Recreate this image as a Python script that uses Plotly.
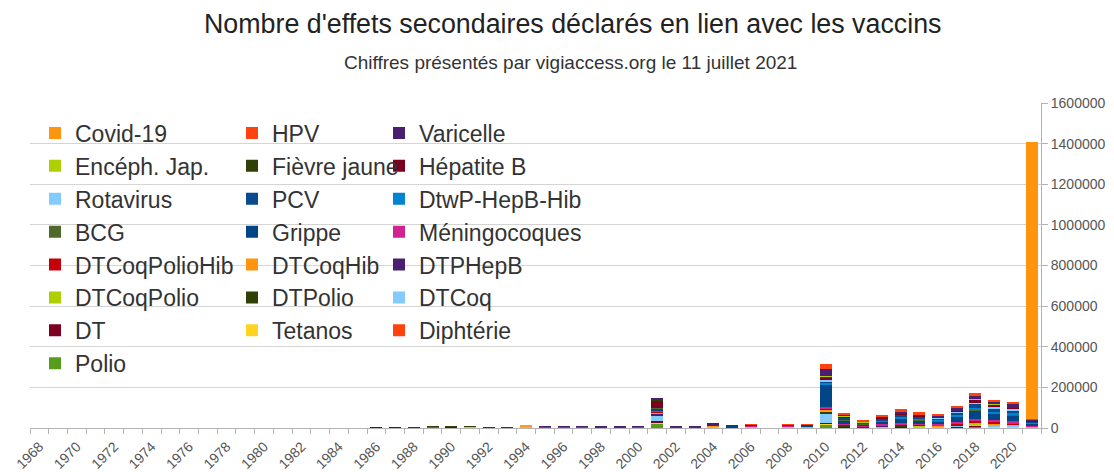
import plotly.graph_objects as go

years = list(range(1968, 2022))

# values per year 1968..2021 (54 values each)
polio = [0,0,0,0,0,0, 0,0,0,0,0,0, 0,0,0,0,0,0,
         300,400,500,800,700,1500,500,400,2500,600,600,600,700,700,600,
         20000, 500,700,1500,1000,1200,0,1200,1000,
         18000,2000,1000,1500,2000,1800,1500,2500,5000,3500,3000,1000]
diphterie = [0,0,0,0,0,0, 0,0,0,0,0,0, 0,0,0,0,0,0,
             50,50,100,100,100,200,100,50,200,100,100,100,100,100,100,
             1000, 100,150,300,200,250,0,250,200,
             1000,500,300,400,500,400,400,500,700,600,500,200]
tetanos = [0,0,0,0,0,0, 0,0,0,0,0,0, 0,0,0,0,0,0,
           200,300,300,500,400,700,300,300,800,400,400,400,500,500,400,
           2000, 300,400,900,600,700,0,700,600,
           3000,1500,800,1000,1300,1100,1000,1500,2000,1800,1600,500]
dt = [0,0,0,0,0,0, 0,0,0,0,0,0, 0,0,0,0,0,0,
      250,350,400,600,500,900,400,300,1000,500,500,500,600,600,500,
      10000, 400,600,1300,900,1000,0,1000,800,
      4000,1500,1000,1200,1500,1300,1200,1800,2500,2000,1800,600]
dtcoq = [0,0,0,0,0,0, 0,0,0,0,0,0, 0,0,0,0,0,0,
         500,800,1000,1500,1200,2000,1000,700,2500,1200,1100,1000,1200,1100,900,
         30000, 800,1200,2500,1800,2000,0,2000,1600,
         45000,3000,1500,2500,3500,3000,2500,4000,6000,5000,4500,1500]
dtpolio = [0,0,0,0,0,0, 0,0,0,0,0,0, 0,0,0,0,0,0,
           100,150,200,300,250,500,200,150,600,250,250,250,300,300,250,
           2000, 200,300,600,400,500,0,500,400,
           8000,1500,700,1000,1200,1000,900,1300,2000,1700,1500,500]
dtcoqpolio = [0,0,0,0,0,0, 0,0,0,0,0,0, 0,0,0,0,0,0,
              300,450,700,1000,900,2000,700,500,2200,900,850,800,900,900,700,
              3000, 500,700,1500,1000,1200,0,1200,1000,
              5000,2000,1000,1500,2000,1700,1500,2200,3000,2500,2200,800]
dtphepb = [0,0,0,0,0,0, 0,0,0,0,0,0, 0,0,0,0,0,0,
           0,0,0,0,0,0,0,0,0,100,100,150,200,200,200,
           5000, 200,300,700,500,600,0,700,600,
           3000,1000,500,800,1000,900,800,1200,2000,1700,1500,500]
dtcoqhib = [0,0,0,0,0,0, 0,0,0,0,0,0, 0,0,0,0,0,0,
            0,0,0,0,100,200,150,100,300,200,250,250,300,300,300,
            4000, 300,400,900,600,800,0,800,700,
            3000,1000,500,800,1000,900,800,1200,2000,1700,1500,500]
dtcoqpoliohib = [0,0,0,0,0,0, 0,0,0,0,0,0, 0,0,0,0,0,0,
                 0,0,0,0,0,0,0,50,150,150,200,250,300,350,300,
                 3000, 400,600,1300,900,1100,0,1200,1000,
                 5000,3000,2000,3000,4500,4000,3500,5500,8000,7000,6000,2000]
meningo = [0,0,0,0,0,0, 0,0,0,0,0,0, 0,0,0,0,0,0,
           50,100,100,150,100,200,100,100,200,150,150,150,200,200,200,
           5000, 300,500,1200,900,1100,0,1200,1000,
           8000,4000,2000,4000,6000,5000,5000,8000,12000,10000,9000,3000]
grippe = [0,0,0,0,0,0, 0,0,0,0,0,0, 0,0,0,0,0,0,
          100,150,250,400,300,400,300,200,400,300,300,300,400,400,350,
          12000, 600,1000,2500,1800,2200,0,2500,2200,
          110000,18000,8000,15000,22000,18000,15000,25000,40000,32000,30000,12000]
bcg = [0,0,0,0,0,0, 0,0,0,0,0,0, 0,0,0,0,0,0,
       100,150,200,300,200,300,150,100,300,150,150,150,150,150,150,
       2000, 150,200,400,300,300,0,300,250,
       3000,1500,700,1000,1200,1000,900,1300,2000,1800,1600,600]
dtwp = [0,0,0,0,0,0, 0,0,0,0,0,0, 0,0,0,0,0,0,
        0,0,0,0,0,0,0,0,0,0,0,0,0,0,0,
        1000, 50,100,300,200,300,0,400,300,
        5000,3000,2000,4000,6000,5000,4500,7000,10000,8000,7000,2500]
pcv = [0,0,0,0,0,0, 0,0,0,0,0,0, 0,0,0,0,0,0,
       0,0,0,0,0,0,0,0,0,0,0,0,0,0,0,
       0, 100,200,600,500,700,0,800,700,
       10000,8000,4000,8000,12000,10000,9000,14000,22000,18000,16000,6000]
rota = [0,0,0,0,0,0, 0,0,0,0,0,0, 0,0,0,0,0,0,
        0,0,0,0,0,0,0,0,0,0,0,0,50,100,0,
        0, 100,200,500,400,500,0,600,500,
        3000,2000,800,1500,2500,2000,1800,3000,5000,4000,3500,1200]
hepb = [0,0,0,0,0,0, 0,0,0,0,0,0, 0,0,0,0,0,0,
        50,100,200,300,300,600,300,200,600,400,400,500,600,600,550,
        35000, 600,800,1600,1100,1300,0,1300,1100,
        15000,4000,2000,3500,5000,4000,3500,6000,14000,12000,11000,3000]
fievre = [0,0,0,0,0,0, 0,0,0,0,0,0, 0,0,0,0,0,0,
          0,0,50,50,50,100,50,50,100,50,50,50,50,50,50,
          3000, 100,150,300,200,200,0,200,200,
          3000,1000,500,800,1000,900,800,1200,2000,1600,1400,500]
encephjap = [0,0,0,0,0,0, 0,0,0,0,0,0, 0,0,0,0,0,0,
             0,0,0,0,0,0,0,0,50,0,0,0,0,0,0,
             2000, 50,100,200,150,150,0,150,100,
             2000,1000,500,700,1000,800,700,1100,1500,1200,1000,300]
varicelle = [0,0,0,0,0,0, 0,0,0,0,0,0, 0,0,0,0,0,0,
             0,0,0,0,0,0,0,0,0,100,150,200,250,300,300,
             8000, 300,400,900,700,900,0,1000,800,
             35000,5000,3000,4000,6000,5000,4500,8000,18000,16000,15000,4000]
hpv = [0,0,0,0,0,0, 0,0,0,0,0,0, 0,0,0,0,0,0,
       0,0,0,0,0,0,0,0,0,0,0,0,0,0,0,
       0, 0,0,0,0,200,0,1100,1000,
       28000,6000,3000,8000,11000,9000,6000,10000,12000,8000,5000,2000]
covid = [0,0,0,0,0,0, 0,0,0,0,0,0, 0,0,0,0,0,0,
         0,0,0,0,0,0,0,0,0,0,0,0,0,0,0,
         0, 0,0,0,0,0,0,0,0,
         0,0,0,0,0,0,0,0,0,0,0,1367000]

# stacking order (bottom -> top), names, colours, legend column
series_names = ["Polio", "Diphtérie", "Tetanos", "DT", "DTCoq", "DTPolio",
                "DTCoqPolio", "DTPHepB", "DTCoqHib", "DTCoqPolioHib",
                "Méningocoques", "Grippe", "BCG", "DtwP-HepB-Hib", "PCV",
                "Rotavirus", "Hépatite B", "Fièvre jaune", "Encéph. Jap.",
                "Varicelle", "HPV", "Covid-19"]
series_values = [polio, diphterie, tetanos, dt, dtcoq, dtpolio, dtcoqpolio,
                 dtphepb, dtcoqhib, dtcoqpoliohib, meningo, grippe, bcg, dtwp,
                 pcv, rota, hepb, fievre, encephjap, varicelle, hpv, covid]
series_colors = ["#579d1c", "#ff420e", "#ffd320", "#7e0021", "#83caff",
                 "#314004", "#aecf00", "#4b1f6f", "#ff950e", "#c5000b",
                 "#d0238f", "#004586", "#4d6a2c", "#0084d1", "#0a4a8e",
                 "#83caff", "#7e0021", "#314004", "#aecf00", "#4b1f6f",
                 "#ff420e", "#ff950e"]
legend_ids = ["legend", "legend3", "legend2"]

tick_years = [y for y in years if y % 2 == 0]

fig = go.Figure()
for i, (name, vals, col) in enumerate(zip(series_names, series_values, series_colors)):
    assert len(vals) == len(years), name
    fig.add_trace(go.Bar(
        x=years, y=vals, name=name,
        marker=dict(color=col, line=dict(width=0)),
        legend=legend_ids[i % 3], legendrank=1000 - i,
    ))

W, H = 1114, 472
L, R, T, B = 30, 73, 103, 44
pw, ph = W - L - R, H - T - B

def px_x(x):
    return (x - L) / pw

def px_y(y):
    return (H - B - y) / ph

legend_font = dict(family="Liberation Sans, Arial, sans-serif", size=23, color="#333333")
common_leg = dict(orientation="v", traceorder="normal",
                  font=legend_font, bgcolor="rgba(0,0,0,0)", borderwidth=0,
                  xanchor="left", yanchor="top", y=px_y(111.5), itemclick=False,
                  itemdoubleclick=False)

fig.update_layout(
    width=W, height=H,
    margin=dict(l=L, r=R, t=T, b=B, autoexpand=False),
    paper_bgcolor="white", plot_bgcolor="white",
    barmode="stack", bargap=0.36,
    font=dict(family="Liberation Sans, Arial, sans-serif", color="#555555"),
    showlegend=True,
    legend=dict(x=px_x(35), **common_leg),
    legend2=dict(x=px_x(232), **common_leg),
    legend3=dict(x=px_x(379), **common_leg),
    xaxis=dict(
        range=[1967.5, 2021.5], tickmode="array", tickvals=tick_years,
        ticktext=[str(y) for y in tick_years], tickangle=-45,
        ticks="", showgrid=False, zeroline=False, automargin=False,
        showline=True, linecolor="#b3b3b3", linewidth=1,
        tickfont=dict(size=14, color="#555555"), ticklabelstandoff=4,
        minor=dict(tickmode="linear", tick0=1967.5, dtick=1, ticks="outside",
                   ticklen=5, tickcolor="#b3b3b3", showgrid=False),
    ),
    yaxis=dict(
        side="right", range=[0, 1600000], dtick=200000, tickformat="d",
        showgrid=True, gridcolor="#d4d4d4", gridwidth=1, zeroline=False,
        showline=True, linecolor="#b3b3b3", linewidth=1, automargin=False,
        ticks="outside", ticklen=6, tickcolor="#b3b3b3",
        tickfont=dict(size=14, color="#555555"),
    ),
    shapes=[dict(type="rect", xref="paper", yref="paper", layer="between",
                 x0=0, x1=px_x(612), y0=px_y(382), y1=px_y(110),
                 fillcolor="white", line=dict(width=0))],
    annotations=[
        dict(text="Nombre d'effets secondaires déclarés en lien avec les vaccins",
             xref="paper", yref="paper", x=px_x(572), y=px_y(24),
             xanchor="center", yanchor="middle", showarrow=False,
             font=dict(size=26.8, color="#222222")),
        dict(text="Chiffres présentés par vigiaccess.org le 11 juillet 2021",
             xref="paper", yref="paper", x=px_x(570), y=px_y(62),
             xanchor="center", yanchor="middle", showarrow=False,
             font=dict(size=19, color="#333333")),
    ],
)

fig.write_html("out.html", config={"displayModeBar": False},
               post_script="document.body.style.margin='0';")
